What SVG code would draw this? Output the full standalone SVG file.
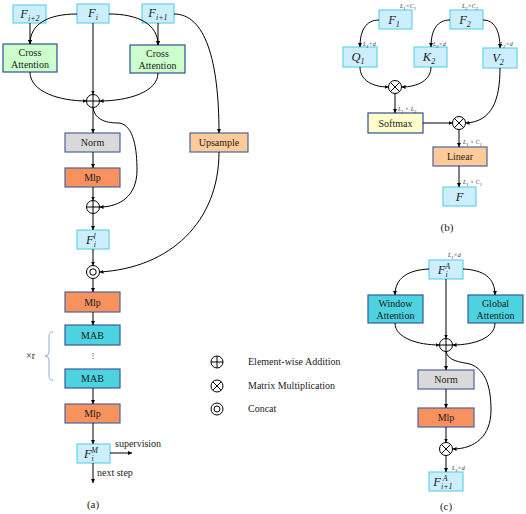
<svg xmlns="http://www.w3.org/2000/svg" width="526" height="514" viewBox="0 0 526 514">
<defs>
<marker id="ah" viewBox="0 0 10 10" refX="10" refY="5" markerWidth="4" markerHeight="4" orient="auto" markerUnits="userSpaceOnUse">
<path d="M0,0 L10,5 L0,10 z" fill="#000"/>
</marker>
<style>
.lbl{font-family:"Liberation Serif","Times New Roman",serif;font-size:10px;fill:#1a1a1a;text-anchor:middle}
.leg{font-family:"Liberation Serif","Times New Roman",serif;font-size:10px;fill:#1a1a1a}
.m{font-family:"Liberation Serif","DejaVu Serif",serif;font-style:italic;font-size:12.5px;fill:#1a1a1a;text-anchor:middle}
.s{font-size:8px}
.dim{font-family:"Liberation Serif",serif;font-style:italic;font-size:6px;fill:#333}
.cap{font-family:"Liberation Serif",serif;font-size:11px;fill:#1a1a1a;text-anchor:middle}
.feat{fill:#CCEEFF;stroke:#66D3E8;stroke-width:1.2}
.ca{fill:#CCFFCC;stroke:#2F4F8F;stroke-width:1.2}
.norm{fill:#D9D9D9;stroke:#4A6496;stroke-width:1.2}
.mlp{fill:#F7925F;stroke:#4A6496;stroke-width:1.2}
.up{fill:#FFCC99;stroke:#4A6496;stroke-width:1.2}
.mab{fill:#4DD2E0;stroke:#3A5A9A;stroke-width:1.2}
.soft{fill:#FFFFCC;stroke:#2F4F8F;stroke-width:1.2}
.op{fill:#fff;stroke:#000;stroke-width:1}
.c path,.c line{fill:none;stroke:#000;stroke-width:1}
</style>
</defs>

<!-- ========== Panel (a) ========== -->
<g id="a-Fi2"><rect class="feat" x="13" y="5" width="33" height="18"/><text class="m" x="30" y="18">F<tspan class="s" dy="2.5">i+2</tspan></text></g>
<g id="a-Fi"><rect class="feat" x="77" y="4" width="32" height="19"/><text class="m" x="93" y="17">F<tspan class="s" dy="2.5">i</tspan></text></g>
<g id="a-Fi1"><rect class="feat" x="142" y="4" width="32" height="19"/><text class="m" x="158" y="17">F<tspan class="s" dy="2.5">i+1</tspan></text></g>
<g id="a-ca1"><rect class="ca" x="3" y="44" width="54" height="28"/><text class="lbl" x="30" y="56">Cross</text><text class="lbl" x="30" y="68">Attention</text></g>
<g id="a-ca2"><rect class="ca" x="130" y="45" width="55" height="28"/><text class="lbl" x="157.5" y="57">Cross</text><text class="lbl" x="157.5" y="69">Attention</text></g>
<g id="a-add1"><circle class="op" cx="93" cy="101" r="6.5"/><path d="M86.5,101 H99.5 M93,94.5 V107.5" stroke="#000" stroke-width="1"/></g>
<g id="a-norm"><rect class="norm" x="65" y="133" width="55" height="19"/><text class="lbl" x="92.5" y="146">Norm</text></g>
<g id="a-up"><rect class="up" x="190" y="133" width="58" height="19"/><text class="lbl" x="219" y="146">Upsample</text></g>
<g id="a-mlp1"><rect class="mlp" x="65" y="168" width="55" height="19"/><text class="lbl" x="92.5" y="181">Mlp</text></g>
<g id="a-add2"><circle class="op" cx="93" cy="207" r="6.5"/><path d="M86.5,207 H99.5 M93,200.5 V213.5" stroke="#000" stroke-width="1"/></g>
<g id="a-Fil"><rect class="feat" x="77" y="230" width="32" height="19"/><text class="m" x="91" y="244">F<tspan class="s" dy="2.5">i</tspan><tspan class="s" dx="-2.5" dy="-8">l</tspan></text></g>
<g id="a-cat"><circle class="op" cx="93" cy="272" r="6.5"/><circle cx="93" cy="272" r="3.2" fill="none" stroke="#000" stroke-width="1"/></g>
<g id="a-mlp2"><rect class="mlp" x="65" y="292" width="55" height="20"/><text class="lbl" x="92.5" y="305.5">Mlp</text></g>
<g id="a-mab1"><rect class="mab" x="65" y="325" width="55" height="20"/><text class="lbl" x="92.5" y="338.5">MAB</text></g>
<g id="a-dots"><text class="lbl" x="93" y="358" style="font-size:8px">⋮</text></g>
<g id="a-mab2"><rect class="mab" x="65" y="369" width="55" height="19"/><text class="lbl" x="92.5" y="382">MAB</text></g>
<g id="a-mlp3"><rect class="mlp" x="65" y="404" width="55" height="19"/><text class="lbl" x="92.5" y="417">Mlp</text></g>
<g id="a-FiM"><rect class="feat" x="77" y="444" width="33" height="19"/><text class="m" x="91" y="458">F<tspan class="s" dy="2.5">i</tspan><tspan class="s" dx="-2.5" dy="-8">M</tspan></text></g>
<g id="a-brace"><path d="M53,332 C49,332 49,334 49,338 V351 C49,354 48,356 45,356 C48,356 49,358 49,361 V374 C49,378 49,380 53,380" fill="none" stroke="#8EA9DB" stroke-width="1"/><text class="leg" x="26" y="359">×r</text></g>
<text class="leg" x="115" y="447">supervision</text>
<text class="leg" x="97" y="476">next step</text>
<text class="cap" x="93" y="508">(a)</text>

<!-- Legend -->
<g id="legend">
<circle class="op" cx="217" cy="362" r="6"/><path d="M211,362 H223 M217,356 V368" stroke="#000" stroke-width="1"/>
<text class="leg" x="248" y="365">Element-wise Addition</text>
<circle class="op" cx="217" cy="386" r="6"/><path d="M212.8,381.8 L221.2,390.2 M221.2,381.8 L212.8,390.2" stroke="#000" stroke-width="1"/>
<text class="leg" x="248" y="389">Matrix Multiplication</text>
<circle class="op" cx="217" cy="409" r="6"/><circle cx="217" cy="409" r="3" fill="none" stroke="#000" stroke-width="1"/>
<text class="leg" x="248" y="412">Concat</text>
</g>

<!-- ========== Panel (b) ========== -->
<g id="b-F1"><rect class="feat" x="379" y="10" width="33" height="19"/><text class="m" x="394" y="24">F<tspan class="s" dy="2.5">1</tspan></text><text class="dim" x="400" y="8">L<tspan dy="1.5" font-size="4.5">1</tspan><tspan dy="-1.5">×C</tspan><tspan dy="1.5" font-size="4.5">1</tspan></text></g>
<g id="b-F2"><rect class="feat" x="450" y="10" width="33" height="19"/><text class="m" x="465" y="24">F<tspan class="s" dy="2.5">2</tspan></text><text class="dim" x="462" y="8">L<tspan dy="1.5" font-size="4.5">2</tspan><tspan dy="-1.5">×C</tspan><tspan dy="1.5" font-size="4.5">2</tspan></text></g>
<g id="b-Q1"><rect class="feat" x="343" y="47" width="34" height="20"/><text class="m" x="358" y="61">Q<tspan class="s" dy="2.5">1</tspan></text><text class="dim" x="363" y="46">L<tspan dy="1.5" font-size="4.5">1</tspan><tspan dy="-1.5">×d</tspan></text></g>
<g id="b-K2"><rect class="feat" x="414" y="47" width="33" height="20"/><text class="m" x="429" y="61">K<tspan class="s" dy="2.5">2</tspan></text><text class="dim" x="433" y="46">L<tspan dy="1.5" font-size="4.5">2</tspan><tspan dy="-1.5">×d</tspan></text></g>
<g id="b-V2"><rect class="feat" x="483" y="48" width="34" height="20"/><text class="m" x="498" y="62">V<tspan class="s" dy="2.5">2</tspan></text><text class="dim" x="500" y="46">L<tspan dy="1.5" font-size="4.5">2</tspan><tspan dy="-1.5">×d</tspan></text></g>
<g id="b-mul1"><circle class="op" cx="395" cy="87" r="6.5"/><path d="M390.4,82.4 L399.6,91.6 M399.6,82.4 L390.4,91.6" stroke="#000" stroke-width="1"/></g>
<g id="b-soft"><rect class="soft" x="368" y="113" width="55" height="20"/><text class="lbl" x="395.5" y="126.5">Softmax</text><text class="dim" x="398" y="111">L<tspan dy="1.5" font-size="4.5">1</tspan><tspan dy="-1.5"> × L</tspan><tspan dy="1.5" font-size="4.5">2</tspan></text></g>
<g id="b-mul2"><circle class="op" cx="459" cy="123" r="6.5"/><path d="M454.4,118.4 L463.6,127.6 M463.6,118.4 L454.4,127.6" stroke="#000" stroke-width="1"/></g>
<g id="b-lin"><rect class="up" x="433" y="147" width="54" height="19"/><text class="lbl" x="460" y="160">Linear</text><text class="dim" x="463" y="144">L<tspan dy="1.5" font-size="4.5">1</tspan><tspan dy="-1.5"> × C</tspan><tspan dy="1.5" font-size="4.5">1</tspan></text></g>
<g id="b-F"><rect class="feat" x="443" y="187" width="33" height="19"/><text class="m" x="459.5" y="201">F</text><text class="dim" x="463" y="184">L<tspan dy="1.5" font-size="4.5">1</tspan><tspan dy="-1.5"> × C</tspan><tspan dy="1.5" font-size="4.5">1</tspan></text></g>
<text class="cap" x="447" y="231">(b)</text>

<!-- ========== Panel (c) ========== -->
<g id="c-FA"><rect class="feat" x="429" y="260" width="34" height="19"/><text class="m" x="444" y="274">F<tspan class="s" dy="2.5">i</tspan><tspan class="s" dx="-2.5" dy="-8">A</tspan></text><text class="dim" x="448" y="257">L<tspan dy="1.5" font-size="4.5">1</tspan><tspan dy="-1.5">×d</tspan></text></g>
<g id="c-win"><rect class="mab" x="368" y="295" width="55" height="28"/><text class="lbl" x="395.5" y="307">Window</text><text class="lbl" x="395.5" y="319">Attention</text></g>
<g id="c-glob"><rect class="mab" x="468" y="295" width="55" height="28"/><text class="lbl" x="495.5" y="307">Global</text><text class="lbl" x="495.5" y="319">Attention</text></g>
<g id="c-add"><circle class="op" cx="446" cy="345" r="6.5"/><path d="M439.5,345 H452.5 M446,338.5 V351.5" stroke="#000" stroke-width="1"/></g>
<g id="c-norm"><rect class="norm" x="418" y="370" width="56" height="19"/><text class="lbl" x="446" y="383">Norm</text></g>
<g id="c-mlp"><rect class="mlp" x="418" y="408" width="56" height="19"/><text class="lbl" x="446" y="421">Mlp</text></g>
<g id="c-mul"><circle class="op" cx="446" cy="449" r="6.5"/><path d="M441.4,444.4 L450.6,453.6 M450.6,444.4 L441.4,453.6" stroke="#000" stroke-width="1"/></g>
<g id="c-FA1"><rect class="feat" x="429" y="472" width="34" height="19"/><text class="m" x="443" y="486">F<tspan class="s" dy="2.5">i+1</tspan><tspan class="s" dx="-10" dy="-8">A</tspan></text><text class="dim" x="452" y="470">L<tspan dy="1.5" font-size="4.5">1</tspan><tspan dy="-1.5">×d</tspan></text></g>
<text class="cap" x="446" y="510">(c)</text>

<!-- ========== Connectors ========== -->
<g id="connectors" class="c">
<!-- (a) -->
<line x1="30" y1="23" x2="30" y2="44" marker-end="url(#ah)"/>
<path d="M77,14 C48,14 30,24 30,44" marker-end="url(#ah)"/>
<path d="M109,14 C138,14 158,24 158,45" marker-end="url(#ah)"/>
<line x1="158" y1="23" x2="158" y2="45" marker-end="url(#ah)"/>
<line x1="93" y1="23" x2="93" y2="94.5" marker-end="url(#ah)"/>
<path d="M30,72 C30,92 60,101 86.5,101" marker-end="url(#ah)"/>
<path d="M158,73 C158,92 128,101 99.5,101" marker-end="url(#ah)"/>
<path d="M174,14 C205,14 219,60 219,133" marker-end="url(#ah)"/>
<line x1="93" y1="107.5" x2="93" y2="133" marker-end="url(#ah)"/>
<path d="M93,107.5 C95,121 108,123 119,123 C134,125 137,150 137,170 C137,196 120,207 99.5,207" marker-end="url(#ah)"/>
<line x1="93" y1="152" x2="93" y2="168" marker-end="url(#ah)"/>
<line x1="93" y1="187" x2="93" y2="200.5" marker-end="url(#ah)"/>
<line x1="93" y1="213.5" x2="93" y2="230" marker-end="url(#ah)"/>
<line x1="93" y1="249" x2="93" y2="265.5" marker-end="url(#ah)"/>
<path d="M219,152 C219,222 170,268 99.5,272" marker-end="url(#ah)"/>
<line x1="93" y1="278.5" x2="93" y2="292" marker-end="url(#ah)"/>
<line x1="93" y1="312" x2="93" y2="325" marker-end="url(#ah)"/>
<line x1="93" y1="388" x2="93" y2="404" marker-end="url(#ah)"/>
<line x1="93" y1="423" x2="93" y2="444" marker-end="url(#ah)"/>
<line x1="110" y1="453" x2="132" y2="453" marker-end="url(#ah)"/>
<line x1="93" y1="463" x2="93" y2="483" marker-end="url(#ah)"/>
<!-- (b) -->
<path d="M379,20 C366,20 360,30 360,47" marker-end="url(#ah)"/>
<path d="M450,20 C437,20 431,30 431,47" marker-end="url(#ah)"/>
<path d="M483,20 C494,20 500,30 500,48" marker-end="url(#ah)"/>
<path d="M360,67 C360,80 372,87 388.5,87" marker-end="url(#ah)"/>
<path d="M431,67 C431,80 418,87 401.5,87" marker-end="url(#ah)"/>
<line x1="395" y1="93.5" x2="395" y2="113" marker-end="url(#ah)"/>
<line x1="423" y1="123" x2="452.5" y2="123" marker-end="url(#ah)"/>
<path d="M500,68 C500,100 492,122 465.5,123" marker-end="url(#ah)"/>
<line x1="459" y1="129.5" x2="459" y2="147" marker-end="url(#ah)"/>
<line x1="459" y1="166" x2="459" y2="187" marker-end="url(#ah)"/>
<!-- (c) -->
<path d="M429,269 C408,270 395,278 395,295" marker-end="url(#ah)"/>
<path d="M463,269 C484,270 495,278 495,295" marker-end="url(#ah)"/>
<line x1="446" y1="279" x2="446" y2="338.5" marker-end="url(#ah)"/>
<path d="M395,323 C395,338 418,345 439.5,345" marker-end="url(#ah)"/>
<path d="M495,323 C495,338 474,345 452.5,345" marker-end="url(#ah)"/>
<line x1="446" y1="351.5" x2="446" y2="370" marker-end="url(#ah)"/>
<path d="M446,351.5 C448,361 460,362 470,364 C487,370 491,390 491,410 C491,436 475,449 452.5,449" marker-end="url(#ah)"/>
<line x1="446" y1="389" x2="446" y2="408" marker-end="url(#ah)"/>
<line x1="446" y1="427" x2="446" y2="442.5" marker-end="url(#ah)"/>
<line x1="446" y1="455.5" x2="446" y2="472" marker-end="url(#ah)"/>
</g>
</svg>
